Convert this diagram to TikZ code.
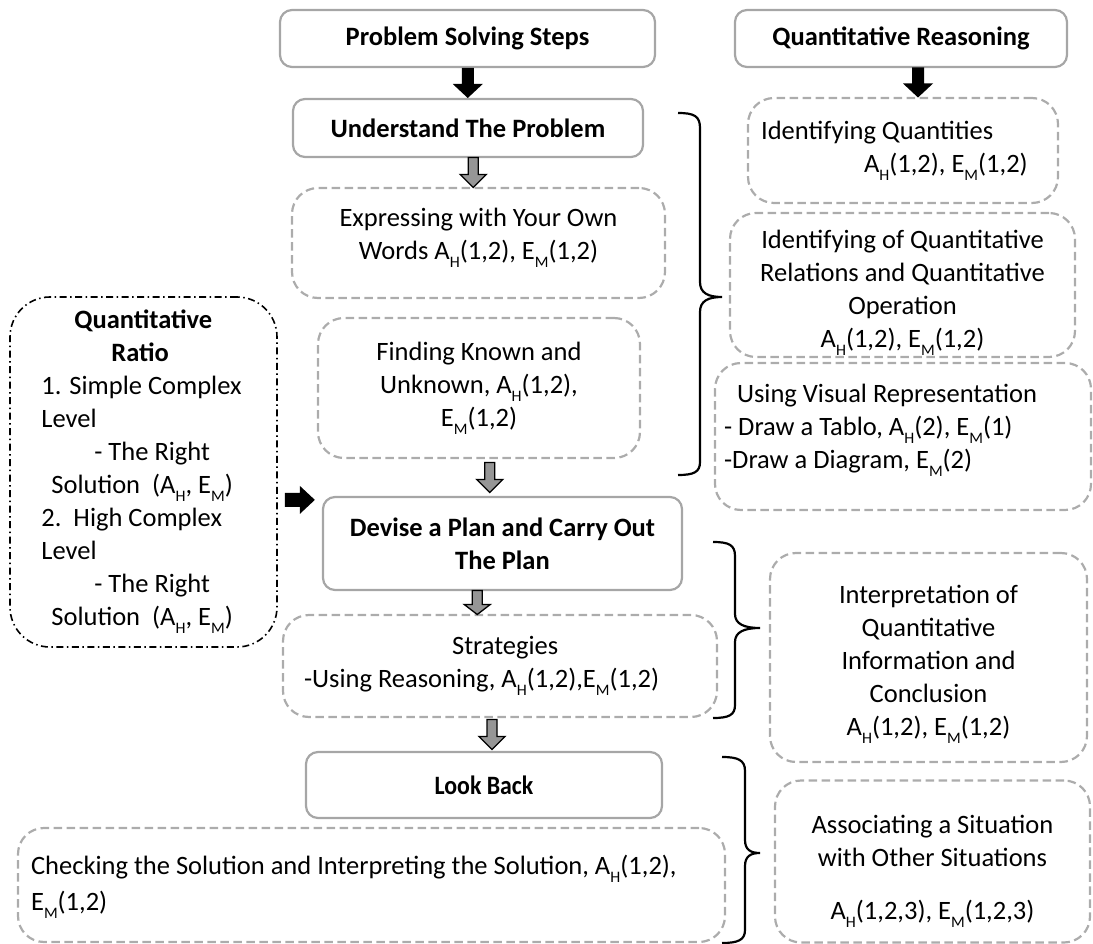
\documentclass[tikz,border=0pt]{standalone}
\usepackage{fontspec}
\setmainfont{Carlito}
\usetikzlibrary{calc}
\definecolor{bord}{RGB}{166,166,166}
\definecolor{dbord}{RGB}{172,172,172}
\definecolor{afill}{RGB}{150,150,150}
\newcommand{\subl}[1]{\raisebox{-8pt}{\fontsize{16}{16}\selectfont #1}}
\newcommand{\sH}{\subl{H}}
\newcommand{\sM}{\subl{M}}
\newcommand{\fs}{\fontsize{26.5}{33}\selectfont}
\tikzset{
  sbox/.style={draw=bord, line width=2.2pt, rounded corners=12pt, inner sep=0pt,
    align=center, font=\fs\bfseries},
  dbox/.style={draw=dbord, line width=2.2pt, dash pattern=on 8.5pt off 4.5pt,
    rounded corners=26pt, inner sep=0pt, align=center, font=\fs},
  ddbox/.style={draw=black, line width=1.6pt, dash pattern=on 7pt off 3.5pt on 1.5pt off 3.5pt,
    rounded corners=40pt, inner sep=0pt},
  txt/.style={inner sep=0pt, font=\fs},
  brace/.style={draw=black, line width=2.2pt},
  pics/blkdown/.style={code={
    \fill[black] (-6,-15) -- (6,-15) -- (6,1) -- (15,1) -- (0,15) -- (-15,1) -- (-6,1) -- cycle;}},
  pics/graydown/.style={code={
    \filldraw[fill=afill, draw=black, line width=1.3pt, line join=miter]
      (-5,-#1) -- (5,-#1) -- (5,2) -- (13,2) -- (0,#1) -- (-13,2) -- (-5,2) -- cycle;}},
  pics/blkright/.style={code={
    \fill[black] (-15,-7) -- (0,-7) -- (0,-14) -- (15,0) -- (0,14) -- (0,7) -- (-15,7) -- cycle;}},
}
\begin{document}
\begin{tikzpicture}[x=1pt,y=-1pt]
\useasboundingbox (0,0) rectangle (1093,944);

% left column
\node[sbox, minimum width=375pt, minimum height=57pt] (ps) at (467.5,38.5) {Problem Solving Steps};
\node[sbox, minimum width=350pt, minimum height=58pt] (up) at (468,128) {Understand The Problem};
\node[dbox, minimum width=373pt, minimum height=110pt] (ew) at (478.5,243) {};
\node[txt, align=center] (ewt) at ($(ew.center)+(0,-5)$)
  {Expressing with Your Own\\Words A\sH(1,2), E\sM(1,2)};
\node[dbox, minimum width=322pt, minimum height=140pt] (fk) at (479,388)
  {Finding Known and\\Unknown, A\sH(1,2),\\E\sM(1,2)};
\node[sbox, minimum width=359pt, minimum height=93pt] (dv) at (502.5,543.5)
  {Devise a Plan and Carry Out\\The Plan};
\node[dbox, minimum width=434pt, minimum height=102pt] (st) at (500,666) {};
\node[txt, align=left, anchor=west] (stt) at ($(st.west)+(22,0)$)
  {\hspace*{148pt}Strategies\\-Using Reasoning, A\sH(1,2),E\sM(1,2)};
\node[sbox, minimum width=356pt, minimum height=66pt] (lb) at (484,785) {\scalebox{0.9}[1]{Look Back}};
\node[dbox, minimum width=707pt, minimum height=114pt] (ck) at (371.5,885) {};
\node[txt, align=left, anchor=west] (ckt) at ($(ck.west)+(14,2)$)
  {Checking the Solution and Interpreting the Solution, A\sH(1,2),\\[3pt]
   E\sM(1,2)};

% quantitative ratio
\node[ddbox, minimum width=267pt, minimum height=350pt] (qrat) at (143.5,472) {};
\node[txt, align=left, anchor=west] (qratt) at ($(qrat.west)+(32,0)$)
  {\hspace*{33pt}\textbf{Quantitative}\\
   \hspace*{70pt}\textbf{Ratio}\\
   1. Simple Complex\\
   Level\\
   \hspace*{53pt}- The Right\\
   \hspace*{10pt}Solution\ \ (A\sH, E\sM)\\
   2.\ \ High Complex\\
   Level\\
   \hspace*{53pt}- The Right\\
   \hspace*{10pt}Solution\ \ (A\sH, E\sM)};

% right column
\node[sbox, minimum width=332pt, minimum height=57pt] (qr) at (901,38.5) {Quantitative Reasoning};
\node[dbox, minimum width=310pt, minimum height=105pt] (iq) at (903,150.5) {};
\node[txt, align=left, anchor=west] (iqt) at ($(iq.west)+(14,0)$)
  {Identifying Quantities\\\hspace*{103pt}A\sH(1,2), E\sM(1,2)};
\node[dbox, minimum width=345pt, minimum height=144pt] (qrel) at (902.5,285) {};
\node[txt, align=center] (qrelt) at ($(qrel.center)+(0,8)$)
  {Identifying of Quantitative\\Relations and Quantitative\\Operation\\A\sH(1,2), E\sM(1,2)};
\node[dbox, minimum width=376pt, minimum height=147pt] (uvr) at (903,436.5) {};
\node[txt, align=left, anchor=west] (uvrt) at ($(uvr.west)+(10,-6)$)
  {\hspace*{13pt}Using Visual Representation\\- Draw a Tablo, A\sH(2), E\sM(1)\\-Draw a Diagram, E\sM(2)};
\node[dbox, minimum width=317pt, minimum height=209pt] (in) at (928.5,657.5) {};
\node[txt, align=center] (int) at ($(in.center)+(0,7)$)
  {Interpretation of\\Quantitative\\Information and\\Conclusion\\A\sH(1,2), E\sM(1,2)};
\node[dbox, minimum width=315pt, minimum height=162pt] (as) at (932.5,861.5) {};
\node[txt, align=center] (ast) at ($(as.center)+(0,10)$)
  {Associating a Situation\\with Other Situations\\[20pt]A\sH(1,2,3), E\sM(1,2,3)};

% arrows
\pic at ($(ps.south)!0.5!(up.north)$) {blkdown};
\pic at ($(qr.south)!0.5!(iq.north)+(16,0)$) {blkdown};
\pic at ($(up.south)!0.5!(ew.north)$) {graydown=15};
\pic at ($(fk.south)!0.5!(dv.north)+(-1,0)$) {graydown=15};
\pic at ($(dv.south)!0.5!(st.north)+(-24,0)$) {graydown=12};
\pic at ($(st.south)!0.5!(lb.north)$) {graydown=15};
\pic at ($(qrat.east |- dv.north)!0.5!(dv.north west)+(0,4)$) {blkright};

% braces
\draw[brace] (678,113) .. controls (694,113) and (700,116) .. (700,128) -- (700,282)
  .. controls (700,293) and (708,297) .. (722,297)
  .. controls (708,297) and (700,301) .. (700,312) -- (700,462)
  .. controls (700,472) and (694,475) .. (678,475);
\draw[brace] (713,542) .. controls (729,542) and (735,545) .. (735,556) -- (735,614)
  .. controls (735,624) and (744,628) .. (760,628)
  .. controls (744,628) and (735,632) .. (735,642) -- (735,705)
  .. controls (735,715) and (729,718) .. (713,718);
\draw[brace] (722,757) .. controls (738,757) and (745,760) .. (745,771) -- (745,840)
  .. controls (745,850) and (751,853) .. (760,853)
  .. controls (751,853) and (745,856) .. (745,866) -- (745,930)
  .. controls (745,940) and (738,943) .. (722,943);
\end{tikzpicture}
\end{document}
